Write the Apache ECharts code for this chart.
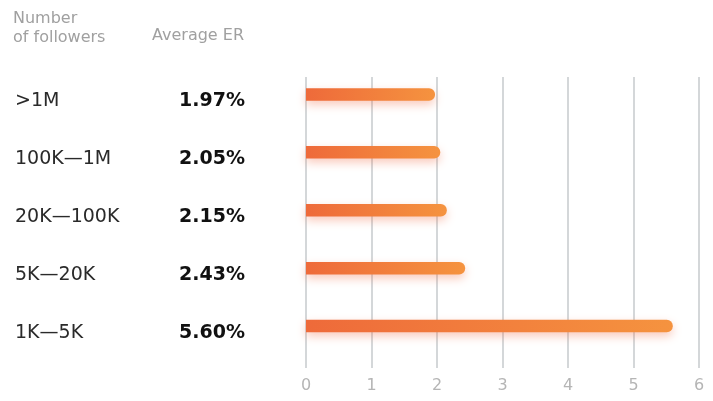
<!DOCTYPE html>
<html>
<head>
<meta charset="utf-8">
<style>
  html, body { margin: 0; padding: 0; background: #ffffff; }
  #chart { width: 713px; height: 401px; }
</style>
<script src="https://cdn.jsdelivr.net/npm/echarts@6/dist/echarts.min.js"></script>
</head>
<body>
<div id="chart"></div>
<script>
// ---- data ----
const categories = [">1M", "100K\u20141M", "20K\u2014100K", "5K\u201420K", "1K\u20145K"];
const erValues = [1.97, 2.05, 2.15, 2.43, 5.60];
const xTicks = [0, 1, 2, 3, 4, 5, 6];
const headerFollowers = "Number\nof followers";
const headerER = "Average ER";

const FONT = "DejaVu Sans";
const chart = echarts.init(document.getElementById('chart'), null, { renderer: 'canvas' });

const option = {
  backgroundColor: '#ffffff',
  animation: false,
  graphic: [
    { type: 'text', left: 13, top: 9, style: { text: headerFollowers, font: '16px "' + FONT + '"', fill: '#a0a0a0', lineHeight: 19 } },
    { type: 'text', left: 152, top: 28, style: { text: headerER, font: '16px "' + FONT + '"', fill: '#a0a0a0' } }
  ],
  grid: [
    { left: 306, right: 14, top: 65.5, bottom: 46 },
    { left: 306, right: 14, top: 77, bottom: 33 }
  ],
  xAxis: [
    { gridIndex: 0, type: 'value', min: 0, max: 6, interval: 1, show: false },
    {
      gridIndex: 1, type: 'value', min: 0, max: 6, interval: 1,
      axisLine: { show: false }, axisTick: { show: false },
      splitLine: { show: true, lineStyle: { color: '#d4d7d9', width: 2 } },
      axisLabel: {
        margin: 10, color: '#b5b5b5', fontSize: 16, fontFamily: FONT,
        formatter: function (v) { return xTicks.indexOf(v) >= 0 ? String(v) : ''; }
      }
    }
  ],
  yAxis: [
    {
      gridIndex: 0, type: 'category', data: categories, inverse: true,
      axisLine: { show: false }, axisTick: { show: false }, splitLine: { show: false },
      axisLabel: {
        margin: 61,
        formatter: function (v, i) {
          return '{a|' + v + '}{b|' + erValues[i].toFixed(2) + '%}';
        },
        rich: {
          a: { width: 155, align: 'left', fontSize: 19, fontFamily: FONT, color: '#2a2a2a', padding: [14, 0, 0, 0] },
          b: { width: 75, align: 'right', fontSize: 19, fontWeight: 'bold', fontFamily: FONT, color: '#111111', padding: [14, 0, 0, 0] }
        }
      }
    },
    { gridIndex: 1, type: 'category', data: categories, inverse: true, show: false }
  ],
  series: [
    {
      type: 'bar',
      xAxisIndex: 0, yAxisIndex: 0,
      data: erValues,
      barWidth: 12.5,
      z: 5,
      itemStyle: {
        borderRadius: [0, 6, 6, 0],
        color: new echarts.graphic.LinearGradient(0, 0, 1, 0, [
          { offset: 0, color: '#ee6a3a' },
          { offset: 1, color: '#f5933f' }
        ]),
        shadowColor: 'rgba(240, 100, 60, 0.35)',
        shadowBlur: 10,
        shadowOffsetY: 4
      }
    }
  ]
};
chart.setOption(option);
</script>
</body>
</html>
